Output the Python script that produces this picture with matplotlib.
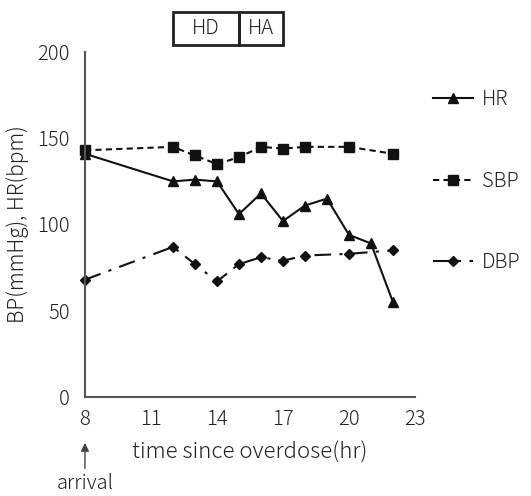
import matplotlib
matplotlib.use("Agg")
import matplotlib.pyplot as plt
from matplotlib.patches import Rectangle
from matplotlib.transforms import blended_transform_factory

plt.rcParams['font.family'] = ['Noto Sans CJK JP', 'DejaVu Sans']
plt.rcParams['font.weight'] = 'light'
plt.rcParams['axes.labelweight'] = 'light'

# Data
hr_t = [8, 12, 13, 14, 15, 16, 17, 18, 19, 20, 21, 22]
hr_v = [141, 125, 126, 125, 106, 118, 102, 111, 115, 94, 89, 55]
sbp_t = [8, 12, 13, 14, 15, 16, 17, 18, 20, 22]
sbp_v = [143, 145, 140, 135, 139, 145, 144, 145, 145, 141]
dbp_t = [8, 12, 13, 14, 15, 16, 17, 18, 20, 22]
dbp_v = [68, 87, 77, 67, 77, 81, 79, 82, 83, 85]
xticks = [8, 11, 14, 17, 20, 23]
yticks = [0, 50, 100, 150, 200]
phases = [("HD", 12, 15), ("HA", 15, 17)]

FS = 14.5
TC = '#222222'

fig = plt.figure(figsize=(5.31, 4.96), dpi=100)
ax = fig.add_axes([0.160, 0.1996, 0.6215, 0.6956])

c = '#111111'
l1, = ax.plot(hr_t, hr_v, '-', color=c, marker='^', markersize=7, lw=1.5, label='HR', clip_on=False)
l2, = ax.plot(sbp_t, sbp_v, color=c, ls=(0, (3, 2)), marker='s', markersize=7, lw=1.5, label='SBP', clip_on=False)
l3, = ax.plot(dbp_t, dbp_v, color=c, ls=(0, (8, 4, 1.5, 4)), marker='D', markersize=5, lw=1.5, label='DBP', clip_on=False)

ax.set_xlim(8, 23)
ax.set_ylim(0, 200)
ax.set_xticks(xticks)
ax.set_yticks(yticks)
ax.tick_params(length=0, labelsize=FS, colors=TC)
ax.tick_params(axis='y', pad=11)
ax.tick_params(axis='x', pad=9)
for s in ['top', 'right']:
    ax.spines[s].set_visible(False)
for s in ['left', 'bottom']:
    ax.spines[s].set_color('#555555')
    ax.spines[s].set_linewidth(1.5)

ax.set_ylabel('BP(mmHg), HR(bpm)', fontsize=15, color=TC, labelpad=6, fontweight='light')
ax.set_xlabel('time since overdose(hr)', fontsize=16, color=TC, labelpad=8, fontweight='light')

tr = blended_transform_factory(ax.transData, ax.transAxes)
for name, a, b in phases:
    ax.add_patch(Rectangle((a, 1.02), b - a, 0.096, transform=tr, fill=False,
                           edgecolor=TC, lw=2, clip_on=False))
    ax.text((a + b) / 2, 1.068, name, transform=tr, ha='center', va='center',
            fontsize=FS, color=TC)

ax.annotate('', xy=(8, -0.125), xytext=(8, -0.215), xycoords=tr, textcoords=tr,
            arrowprops=dict(arrowstyle='-|>', color='#444444', lw=1.0, mutation_scale=12),
            annotation_clip=False)
ax.text(8, -0.25, 'arrival', transform=tr, ha='center', va='center', fontsize=14.5, color=TC)

leg = ax.legend(handles=[l1, l2, l3], loc='upper left', bbox_to_anchor=(1.03, 0.915),
                frameon=False, fontsize=FS, labelspacing=3.0, handlelength=2.0,
                handletextpad=0.45, borderaxespad=0)
for t in leg.get_texts():
    t.set_color(TC)

fig.savefig('out.png', dpi=100)
